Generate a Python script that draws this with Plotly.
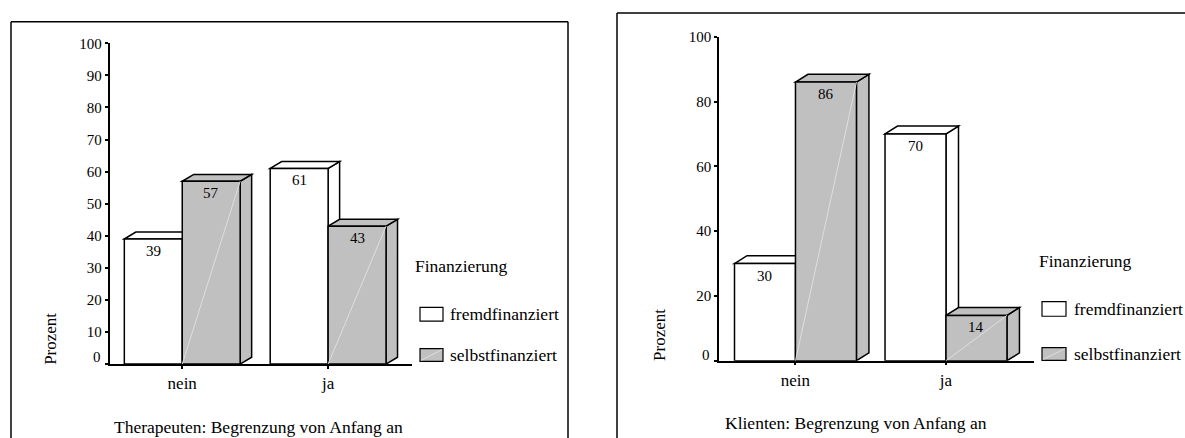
import plotly.graph_objects as go

# ---- data -------------------------------------------------------------
categories = ["nein", "ja"]
series_names = ["fremdfinanziert", "selbstfinanziert"]
legend_title = "Finanzierung"
y_title = "Prozent"

therapeuten_fremd = [39, 61]
therapeuten_selbst = [57, 43]
klienten_fremd = [30, 70]
klienten_selbst = [86, 14]

therapeuten_ticks = [0, 10, 20, 30, 40, 50, 60, 70, 80, 90, 100]
klienten_ticks = [0, 20, 40, 60, 80, 100]

titles = ["Therapeuten: Begrenzung von Anfang an", "Klienten: Begrenzung von Anfang an"]

# ---- layout constants (pixels) --------------------------------------
W, H = 1185, 438
FONT = "Times New Roman, Tinos, serif"
WHITE, GREY = "#ffffff", "#c0c0c0"
EDGE = "#000000"


def px(x):
    return x / W


def py(y):
    return 1 - y / H


def font(size):
    return dict(family=FONT, size=size, color="#000")


panels = [
    dict(series=(therapeuten_fremd, therapeuten_selbst), ticks=therapeuten_ticks,
         ax_x0=109.5, ax_x1=412, ax_y0=362.7, ax_y1=36, xrange=[-0.4986, 1.575],
         bw=0.397, dx=11.5, dy=7, tickfont=15, zero_lab=(102.5, 355),
         ytitle=(51, 337), title=(258, 427),
         leg_title=(413, 263), leg_box_x=(420, 443), leg_boxes_y=[(305, 319), (347, 360)],
         leg_text_x=448, frame=[(11, 460), (11, 14), (568, 14), (568, 460)]),
    dict(series=(klienten_fremd, klienten_selbst), ticks=klienten_ticks,
         ax_x0=719, ax_x1=1033.6, ax_y0=359.3, ax_y1=29.3, xrange=[-0.508, 1.582],
         bw=0.405, dx=12.5, dy=8, tickfont=15, zero_lab=(712, 353),
         ytitle=(660, 333), title=(856, 423),
         leg_title=(1037, 258), leg_box_x=(1042, 1066), leg_boxes_y=[(299, 314), (346, 359)],
         leg_text_x=1072, frame=[(617, 460), (617, 5), (1200, 5)]),
]

fig = go.Figure()
shapes_below, shapes_above, annotations = [], [], []
layout_axes = {}

for p_i, p in enumerate(panels):
    suffix = "" if p_i == 0 else str(p_i + 1)
    xref, yref = "x" + suffix, "y" + suffix
    bw = p["bw"]
    ux = (p["ax_x1"] - p["ax_x0"]) / (p["xrange"][1] - p["xrange"][0])
    uy = (p["ax_y0"] - p["ax_y1"]) / 100.0
    ddx, ddy = p["dx"] / ux, p["dy"] / uy
    xs = list(range(len(categories)))

    for s_i, (vals, color) in enumerate(zip(p["series"], [WHITE, GREY])):
        offset = -bw if s_i == 0 else 0.0
        fig.add_trace(go.Bar(
            x=xs, y=vals, width=bw, offset=offset, name=series_names[s_i],
            marker=dict(color=color, line=dict(color=EDGE, width=1.5)),
            xaxis=xref, yaxis=yref, showlegend=False, hoverinfo="y",
        ))
        for c, v in zip(xs, vals):
            L, R = c + offset, c + offset + bw
            top_face = (f"M{L},{v} L{L + ddx},{v + ddy} L{R + ddx},{v + ddy} L{R},{v} Z")
            side_face = (f"M{R},0 L{R + ddx},{ddy} L{R + ddx},{v + ddy} L{R},{v} Z")
            for path in (side_face, top_face):
                shapes_below.append(dict(type="path", path=path, xref=xref, yref=yref,
                                         fillcolor=color, layer="below",
                                         line=dict(color=EDGE, width=1.5)))
            if color == GREY:
                shapes_above.append(dict(type="line", x0=L, y0=0, x1=R, y1=v,
                                         xref=xref, yref=yref, layer="above",
                                         line=dict(color="#dedede", width=1)))
            annotations.append(dict(x=(L + R) / 2, y=v, xref=xref, yref=yref,
                                    text=str(v), showarrow=False, yshift=-12,
                                    font=font(15)))

    layout_axes["xaxis" + suffix] = dict(
        domain=[px(p["ax_x0"]), px(p["ax_x1"])], range=p["xrange"],
        tickvals=xs, ticktext=categories, showline=True, linecolor=EDGE, linewidth=1.5,
        ticks="outside", ticklen=3, tickwidth=2, tickcolor=EDGE, showgrid=False,
        zeroline=False, anchor=yref, tickfont=font(17),
    )
    layout_axes["yaxis" + suffix] = dict(
        domain=[py(p["ax_y0"]), py(p["ax_y1"])], range=[0, 100],
        tickvals=p["ticks"], ticktext=["" if t == 0 else str(t) for t in p["ticks"]],
        showline=True, linecolor=EDGE, linewidth=1.5, ticks="outside", ticklen=3,
        tickwidth=2, tickcolor=EDGE, showgrid=False, zeroline=False, anchor=xref,
        tickfont=font(p["tickfont"]),
    )

    # zero label sits slightly above the baseline
    zx, zy = p["zero_lab"]
    annotations.append(dict(x=px(zx), y=py(zy), xref="paper", yref="paper", text="0",
                            xanchor="right", yanchor="middle", showarrow=False,
                            font=font(p["tickfont"])))
    # y axis title
    tx, ty = p["ytitle"]
    annotations.append(dict(x=px(tx), y=py(ty), xref="paper", yref="paper", text=y_title,
                            textangle=-90, showarrow=False, xanchor="center", yanchor="middle",
                            font=font(17)))
    # panel caption
    cx, cy = p["title"]
    annotations.append(dict(x=px(cx), y=py(cy), xref="paper", yref="paper", text=titles[p_i],
                            showarrow=False, xanchor="center", yanchor="middle",
                            font=font(17.5)))
    # legend
    lx, ly = p["leg_title"]
    annotations.append(dict(x=px(lx), y=py(ly), xref="paper", yref="paper", text=legend_title,
                            showarrow=False, xanchor="left", yanchor="middle",
                            font=font(17.5)))
    bx0, bx1 = p["leg_box_x"]
    for s_i, (by0, by1) in enumerate(p["leg_boxes_y"]):
        color = [WHITE, GREY][s_i]
        shapes_above.append(dict(type="rect", xref="paper", yref="paper",
                                 x0=px(bx0), x1=px(bx1), y0=py(by1), y1=py(by0),
                                 fillcolor=color, line=dict(color=EDGE, width=1.2)))
        if color == GREY:
            shapes_above.append(dict(type="line", xref="paper", yref="paper",
                                     x0=px(bx0 + 1), y0=py(by1 - 1), x1=px(bx1 - 1), y1=py(by0 + 1),
                                     line=dict(color="#dedede", width=1)))
        annotations.append(dict(x=px(p["leg_text_x"]), y=py((by0 + by1) / 2), xref="paper",
                                yref="paper", text=series_names[s_i], showarrow=False,
                                xanchor="left", yanchor="middle", font=font(17.5)))
    # frame around the panel
    pts = p["frame"]
    for (xa, ya), (xb, yb) in zip(pts[:-1], pts[1:]):
        shapes_above.append(dict(type="line", xref="paper", yref="paper",
                                 x0=px(xa), y0=py(ya), x1=px(xb), y1=py(yb),
                                 line=dict(color=EDGE, width=1.5)))

fig.update_layout(
    width=W, height=H, margin=dict(l=0, r=0, t=0, b=0),
    paper_bgcolor="white", plot_bgcolor="white", barmode="overlay",
    font=font(15),
    shapes=shapes_below + shapes_above, annotations=annotations,
    **layout_axes,
)

fig.write_html("out.html")
